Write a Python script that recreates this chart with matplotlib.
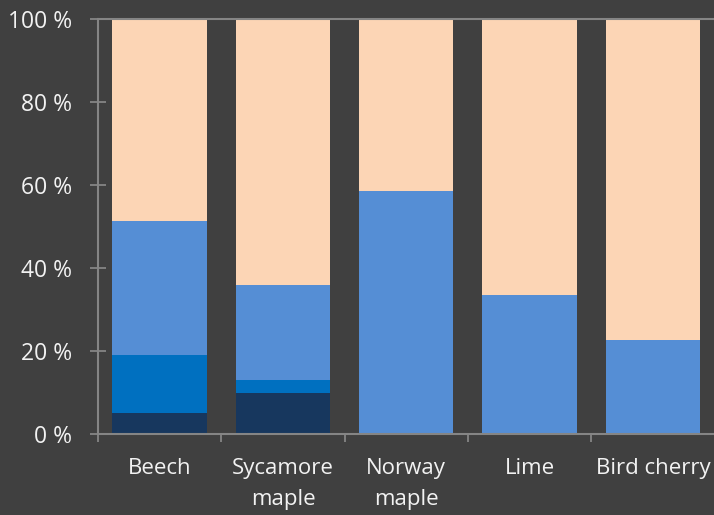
import matplotlib.pyplot as plt
import numpy as np

# Data (percent shares, stacked bottom to top)
species = ['Beech', 'Sycamore\nmaple', 'Norway\nmaple', 'Lime', 'Bird cherry']
seg_navy = [5.1, 9.8, 0, 0, 0]
seg_blue = [13.9, 3.2, 0, 0, 0]
seg_light = [32.3, 22.9, 58.6, 33.5, 22.7]
seg_peach = [48.7, 64.1, 41.4, 66.5, 77.3]

colors = ['#17375E', '#0070C0', '#558ED5', '#FCD5B5']
bg = '#404040'
axis_col = '#858585'
text_col = '#F2F2F2'

plt.rcParams['font.family'] = ['Open Sans', 'DejaVu Sans']

fig = plt.figure(figsize=(7.14, 5.15), dpi=100, facecolor=bg)
ax = fig.add_axes([98 / 714, 81 / 515, 616.5 / 714, 415 / 515])
ax.set_facecolor(bg)

x = np.arange(len(species))
bottom = np.zeros(len(species))
for vals, c in zip([seg_navy, seg_blue, seg_light, seg_peach], colors):
    ax.bar(x, vals, bottom=bottom, width=0.766, color=c, zorder=2)
    bottom += np.array(vals)

ax.set_xlim(-0.5, len(species) - 0.5)
ax.set_ylim(0, 100)

# y axis
ax.set_yticks(range(0, 101, 20))
ax.set_yticklabels([f'{v} %' for v in range(0, 101, 20)])
ax.tick_params(axis='y', direction='inout', length=11.5, width=1.3,
               color=axis_col, labelcolor=text_col, labelsize=16.5, pad=13)

# x axis: labels at centres, tick marks at category boundaries
ax.set_xticks(x)
ax.set_xticklabels(species, linespacing=1.65)
ax.set_xticks(np.arange(-0.5, len(species) - 0.4, 1), minor=True)
ax.tick_params(axis='x', which='major', length=0, labelcolor=text_col,
               labelsize=16, pad=17)
ax.tick_params(axis='x', which='minor', direction='out', length=6, width=1.3,
               color=axis_col)

for side in ['left', 'bottom', 'top']:
    ax.spines[side].set_color(axis_col)
    ax.spines[side].set_linewidth(1.5)
ax.spines['right'].set_visible(False)

fig.savefig('out.png', dpi=100, facecolor=bg)
